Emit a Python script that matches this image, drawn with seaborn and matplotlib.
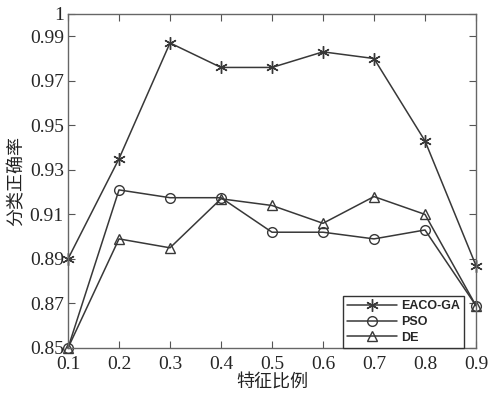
import numpy as np
import pandas as pd
import seaborn as sns
import matplotlib
matplotlib.use("Agg")
import matplotlib.pyplot as plt

ratio = [0.1, 0.2, 0.3, 0.4, 0.5, 0.6, 0.7, 0.8, 0.9]
eaco_ga = [0.890, 0.935, 0.987, 0.976, 0.976, 0.983, 0.980, 0.943, 0.887]
pso = [0.850, 0.921, 0.9175, 0.9175, 0.902, 0.902, 0.899, 0.903, 0.869]
de = [0.850, 0.899, 0.895, 0.917, 0.914, 0.906, 0.918, 0.910, 0.869]
series_names = ["EACO-GA", "PSO", "DE"]
yticks = [0.85, 0.87, 0.89, 0.91, 0.93, 0.95, 0.97, 0.99, 1.0]
ytick_labels = ["0.85", "0.87", "0.89", "0.91", "0.93", "0.95", "0.97", "0.99", "1"]

sns.set_theme(style="white")
plt.rcParams["font.family"] = ["Liberation Serif", "DejaVu Serif"]

fig = plt.figure(figsize=(4.91, 4.00), dpi=100)
ax = fig.add_axes([68 / 491, 52 / 400, (476 - 68) / 491, (348 - 14) / 400])

line_color = "#383838"
markers = [(6, 2, 0), "o", "^"]
sizes = [9, 7, 7.5]
for name, vals, mk, ms in zip(series_names, [eaco_ga, pso, de], markers, sizes):
    d = pd.DataFrame({"ratio": ratio, "acc": vals})
    sns.lineplot(
        data=d, x="ratio", y="acc", ax=ax, label=name, color=line_color,
        marker=mk, markersize=ms, linewidth=1.1,
        markerfacecolor="none", markeredgecolor=line_color, markeredgewidth=1.0,
        clip_on=False,
    )

ax.set_xlim(0.1, 0.9)
ax.set_ylim(0.85, 1.0)
ax.set_xticks(ratio)
ax.set_xticklabels([f"{r:.1f}" for r in ratio], fontsize=14)
ax.set_yticks(yticks)
ax.set_yticklabels(ytick_labels, fontsize=14)
ax.tick_params(direction="in", length=5, width=0.8, color="#555555",
               top=True, right=True, bottom=True, left=True)
ax.tick_params(axis="x", pad=6)
ax.tick_params(axis="y", pad=3)
for s in ax.spines.values():
    s.set_color("#666666")
    s.set_linewidth(1.0)

cjk = ["Noto Sans CJK SC", "DejaVu Sans"]
ax.set_xlabel("特征比例", fontsize=13, family=cjk, labelpad=0, color="#222222")
ax.set_ylabel("分类正确率", fontsize=13, family=cjk, labelpad=3, color="#222222")

handles, labels = ax.get_legend_handles_labels()
leg = ax.legend(handles, labels, loc="lower right", bbox_to_anchor=(464 / 491, 52 / 400),
                bbox_transform=fig.transFigure,
                prop={"family": "Liberation Sans", "weight": "bold", "size": 9},
                frameon=True, fancybox=False, edgecolor="#333333", framealpha=1,
                borderpad=0.35, labelspacing=0.3, handlelength=4.0, handletextpad=0.3,
                borderaxespad=0)
leg.get_frame().set_linewidth(1.0)

fig.savefig("out.png", dpi=100)
